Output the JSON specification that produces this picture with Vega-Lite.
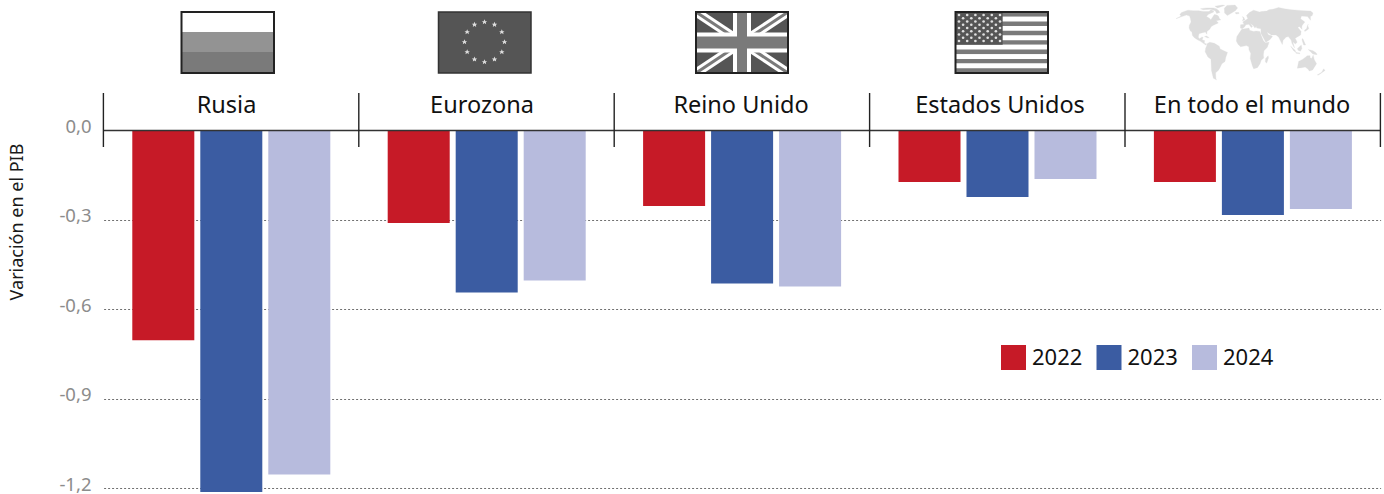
{
"$schema":"https://vega.github.io/schema/vega-lite/v6.json",
"width":1277,"height":494,"autosize":{"type":"none"},
"padding":{"left":103,"right":4,"top":0,"bottom":0},
"background":"white",
"config":{"font":"Noto Sans","view":{"stroke":null}},
"datasets":{
"pib":[
{"zona":"Rusia","anio":"2022","var":-0.703},{"zona":"Rusia","anio":"2023","var":-1.212},{"zona":"Rusia","anio":"2024","var":-1.153},
{"zona":"Eurozona","anio":"2022","var":-0.31},{"zona":"Eurozona","anio":"2023","var":-0.543},{"zona":"Eurozona","anio":"2024","var":-0.503},
{"zona":"Reino Unido","anio":"2022","var":-0.253},{"zona":"Reino Unido","anio":"2023","var":-0.513},{"zona":"Reino Unido","anio":"2024","var":-0.523},
{"zona":"Estados Unidos","anio":"2022","var":-0.173},{"zona":"Estados Unidos","anio":"2023","var":-0.223},{"zona":"Estados Unidos","anio":"2024","var":-0.163},
{"zona":"En todo el mundo","anio":"2022","var":-0.173},{"zona":"En todo el mundo","anio":"2023","var":-0.283},{"zona":"En todo el mundo","anio":"2024","var":-0.263}
],
"world":[
{"type":"Feature","properties":{},"geometry":{"type":"MultiPolygon","coordinates":[
[[[-166,66],[-156,71],[-140,70],[-125,70],[-110,68],[-95,68],[-94,72],[-85,70],[-82,67],[-93,62],[-94,58],[-85,55],[-80,52],[-79,55],[-77,62],[-70,61],[-65,59],[-60,54],[-56,52],[-66,50],[-60,46],[-66,44],[-70,42],[-74,40],[-76,35],[-81,31],[-80,26],[-82,28],[-84,30],[-90,29],[-97,27],[-97,21],[-94,18],[-90,21],[-87,21],[-88,16],[-83,15],[-83,10],[-78,9],[-80,7],[-85,10],[-92,14],[-97,16],[-105,20],[-110,24],[-113,30],[-117,32],[-122,37],[-124,42],[-124,48],[-130,54],[-137,59],[-147,61],[-155,58],[-165,54],[-158,59],[-165,62],[-166,66]]],
[[[-125,74],[-110,76],[-90,76],[-80,74],[-70,70],[-65,66],[-72,64],[-80,70],[-95,73],[-115,72],[-125,74]]],
[[[-90,80],[-70,83],[-62,82],[-78,76],[-90,80]]],
[[[-55,82],[-30,83],[-20,76],[-25,70],[-43,60],[-52,65],[-58,75],[-55,82]]],
[[[-84,22],[-80,23],[-74,20],[-78,20],[-84,22]]],
[[[-78,9],[-72,12],[-62,10],[-52,5],[-50,0],[-35,-6],[-39,-15],[-41,-22],[-48,-26],[-54,-34],[-58,-38],[-65,-42],[-68,-52],[-68,-55],[-74,-52],[-73,-38],[-70,-18],[-76,-14],[-81,-5],[-80,1],[-77,8],[-78,9]]],
[[[-6,35],[10,37],[11,33],[20,31],[25,32],[33,31],[36,22],[39,15],[43,11],[51,12],[47,3],[40,-3],[39,-10],[40,-16],[35,-20],[33,-26],[28,-33],[20,-35],[17,-30],[12,-17],[13,-8],[9,-1],[9,4],[4,6],[-8,4],[-13,8],[-17,14],[-16,22],[-10,30],[-6,35]]],
[[[49,-12],[50,-16],[47,-25],[44,-23],[44,-17],[49,-12]]],
[[[-9,37],[-9,43],[-1,44],[-4,48],[2,51],[8,54],[5,60],[13,66],[25,71],[40,67],[45,68],[60,69],[68,72],[80,73],[100,77],[113,74],[130,72],[160,70],[179,69],[179,65],[170,60],[163,58],[156,51],[156,58],[142,59],[135,54],[140,48],[130,42],[127,39],[126,35],[122,40],[118,38],[122,31],[119,25],[110,21],[106,19],[109,12],[105,9],[100,13],[103,2],[98,10],[97,16],[92,22],[87,21],[80,15],[78,8],[73,18],[72,21],[67,25],[57,25],[52,28],[48,30],[51,25],[56,24],[59,22],[52,16],[44,12],[39,21],[35,28],[36,36],[27,37],[26,40],[23,37],[19,42],[13,45],[18,40],[15,38],[10,44],[3,43],[0,39],[-5,36],[-9,37]]],
[[[-5,58],[-2,57],[1,52],[-5,50],[-3,54],[-5,58]]],
[[[-24,66],[-15,66],[-14,64],[-22,63],[-24,66]]],
[[[130,33],[136,36],[141,41],[145,44],[142,42],[141,36],[135,33],[130,31],[130,33]]],
[[[95,5],[104,-2],[106,-6],[101,-3],[95,5]]],
[[[109,1],[117,7],[118,1],[115,-4],[110,-2],[109,1]]],
[[[131,-1],[141,-3],[148,-7],[150,-10],[141,-9],[135,-4],[131,-1]]],
[[[120,18],[122,18],[126,7],[122,7],[120,14],[120,18]]],
[[[106,-6],[114,-7],[114,-8.5],[106,-7.5],[106,-6]]],
[[[114,-22],[122,-18],[130,-12],[136,-12],[136,-15],[140,-17],[142,-11],[146,-19],[153,-26],[150,-37],[144,-39],[138,-35],[131,-32],[124,-33],[115,-34],[114,-22]]],
[[[173,-35],[178,-38],[170,-46],[167,-46],[173,-41],[173,-35]]]
]}}
],
"usStars":[
{"r":0,"c":0},{"r":0,"c":2},{"r":0,"c":4},{"r":0,"c":6},{"r":0,"c":8},{"r":0,"c":10},
{"r":1,"c":1},{"r":1,"c":3},{"r":1,"c":5},{"r":1,"c":7},{"r":1,"c":9},
{"r":2,"c":0},{"r":2,"c":2},{"r":2,"c":4},{"r":2,"c":6},{"r":2,"c":8},{"r":2,"c":10},
{"r":3,"c":1},{"r":3,"c":3},{"r":3,"c":5},{"r":3,"c":7},{"r":3,"c":9},
{"r":4,"c":0},{"r":4,"c":2},{"r":4,"c":4},{"r":4,"c":6},{"r":4,"c":8},{"r":4,"c":10},
{"r":5,"c":1},{"r":5,"c":3},{"r":5,"c":5},{"r":5,"c":7},{"r":5,"c":9},
{"r":6,"c":0},{"r":6,"c":2},{"r":6,"c":4},{"r":6,"c":6},{"r":6,"c":8},{"r":6,"c":10},
{"r":7,"c":1},{"r":7,"c":3},{"r":7,"c":5},{"r":7,"c":7},{"r":7,"c":9},
{"r":8,"c":0},{"r":8,"c":2},{"r":8,"c":4},{"r":8,"c":6},{"r":8,"c":8},{"r":8,"c":10}
]
},
"resolve":{"scale":{"x":"independent","y":"independent","color":"independent","size":"independent","xOffset":"independent"}},
"layer":[
{"data":{"name":"world"},"mark":{"type":"geoshape","fill":"#dddddd","stroke":"#dddddd","strokeWidth":0.3},
 "projection":{"type":"naturalEarth1","scale":32,"translate":[1141.5,49]}},
{"data":{"name":"pib"},"mark":{"type":"bar"},
 "encoding":{
  "x":{"field":"zona","type":"nominal","axis":null,"sort":null,"scale":{"type":"band","domain":["Rusia","Eurozona","Reino Unido","Estados Unidos","En todo el mundo"],"range":[0.6,1277.6],"paddingInner":0,"paddingOuter":0}},
  "xOffset":{"field":"anio","type":"nominal","scale":{"type":"band","paddingInner":0.088,"paddingOuter":0.422}},
  "y":{"field":"var","type":"quantitative","scale":{"domain":[-1.2186,0.4375],"range":[494,0],"nice":false,"zero":false},
   "axis":{"values":[0,-0.3,-0.6,-0.9,-1.2],"labelExpr":"(datum.value<0?'-':'')+replace(format(abs(datum.value),'.1f'),'.',',')","labelFontSize":18.5,"labelColor":"#8c8c8c","labelPadding":12,"labelOffset":-4,"ticks":false,"domain":false,"grid":true,"gridColor":"#707070","gridDash":[2,2],"gridWidth":1,"gridOpacity":{"condition":{"test":"datum.value===0","value":0},"value":1},"title":"Variación en el PIB","titleFontSize":18,"titleFontWeight":"normal","titleColor":"#1a1a1a","titleX":-77,"titleY":221.5,"titleAnchor":"middle","titleAlign":"center"}},
  "color":{"field":"anio","type":"nominal","scale":{"domain":["2022","2023","2024"],"range":["#c61a27","#3b5ca2","#b7bbdd"]},
   "legend":{"orient":"none","legendX":898,"legendY":345,"direction":"horizontal","columns":3,"title":null,"symbolType":"square","symbolSize":625,"symbolStrokeWidth":0,"symbolOpacity":1,"labelFontSize":22,"labelColor":"#111111","labelOffset":6,"columnPadding":13.5,"padding":0}}
 }},
{"data":{"values":[{"b":"zero"}]},"mark":{"type":"rule","color":"#333333","strokeWidth":1.5},
 "encoding":{"x":{"datum":0,"type":"quantitative","axis":null,"scale":{"domain":[0,5],"range":[0,1277]}},"x2":{"datum":5},
  "y":{"datum":0,"type":"quantitative","axis":null,"scale":{"domain":[-1.2186,0.4375],"range":[494,0],"nice":false,"zero":false}}}},
{"data":{"values":[{"b":0},{"b":1},{"b":2},{"b":3},{"b":4},{"b":5}]},"mark":{"type":"rule","color":"#222222","strokeWidth":1.4,"xOffset":0.4},
 "encoding":{"x":{"field":"b","type":"quantitative","axis":null,"scale":{"domain":[0,5],"range":[0,1277]}},
  "y":{"datum":0.1257,"type":"quantitative","axis":null,"scale":{"domain":[-1.2186,0.4375],"range":[494,0],"nice":false,"zero":false}},"y2":{"datum":-0.0553}}},
{"data":{"values":[{"zona":"Rusia","p":123.5},{"zona":"Eurozona","p":379},{"zona":"Reino Unido","p":638},{"zona":"Estados Unidos","p":897},{"zona":"En todo el mundo","p":1149}]},
 "mark":{"type":"text","fontSize":23.5,"color":"#111111","align":"center","baseline":"middle"},
 "encoding":{"text":{"field":"zona"},
  "x":{"field":"p","type":"quantitative","axis":null,"scale":{"domain":[0,1277],"range":[0,1277]}},
  "y":{"datum":0.0805,"type":"quantitative","axis":null,"scale":{"domain":[-1.2186,0.4375],"range":[494,0],"nice":false,"zero":false}}}},

{"data":{"values":[{"f":"1","tono":"blanco"},{"f":"2","tono":"azul"},{"f":"3","tono":"rojo"}]},"mark":{"type":"rect"},
 "encoding":{"x":{"datum":-1,"type":"quantitative","axis":null,"scale":{"domain":[-1,1],"range":[78.5,171]}},"x2":{"datum":1},
  "y":{"field":"f","type":"nominal","axis":null,"scale":{"type":"band","range":[12,72],"paddingInner":0,"paddingOuter":0}},
  "color":{"field":"tono","type":"nominal","legend":null,"scale":{"domain":["blanco","azul","rojo"],"range":["#ffffff","#939393","#7a7a7a"]}}}},
{"data":{"values":[{"bandera":"Rusia"}]},"mark":{"type":"rect","fill":null,"stroke":"#222222","strokeWidth":2},
 "encoding":{"x":{"datum":-1,"type":"quantitative","axis":null,"scale":{"domain":[-1,1],"range":[78.5,171]}},"x2":{"datum":1},
  "y":{"datum":-1,"type":"quantitative","axis":null,"scale":{"domain":[-1,1],"range":[73,12]}},"y2":{"datum":1}}},

{"data":{"values":[{"bandera":"Eurozona"}]},"mark":{"type":"rect","fill":"#555555","stroke":"#333333","strokeWidth":1.5},
 "encoding":{"x":{"datum":-1,"type":"quantitative","axis":null,"scale":{"domain":[-1,1],"range":[335.5,428]}},"x2":{"datum":1},
  "y":{"datum":-1,"type":"quantitative","axis":null,"scale":{"domain":[-1,1],"range":[73,12]}},"y2":{"datum":1}}},
{"data":{"values":[{"a":0,"b":1},{"a":0.5,"b":0.866},{"a":0.866,"b":0.5},{"a":1,"b":0},{"a":0.866,"b":-0.5},{"a":0.5,"b":-0.866},{"a":0,"b":-1},{"a":-0.5,"b":-0.866},{"a":-0.866,"b":-0.5},{"a":-1,"b":0},{"a":-0.866,"b":0.5},{"a":-0.5,"b":0.866}]},
 "mark":{"type":"point","filled":true,"opacity":1,"color":"#dddddd","size":32,"shape":"M0,-1L0.294,-0.309L0.951,-0.309L0.476,0.118L0.588,0.809L0,0.382L-0.588,0.809L-0.476,0.118L-0.951,-0.309L-0.294,-0.309Z"},
 "encoding":{"x":{"field":"a","type":"quantitative","axis":null,"scale":{"domain":[-1,1],"range":[361.5,401.5]}},
  "y":{"field":"b","type":"quantitative","axis":null,"scale":{"domain":[-1,1],"range":[62,22]}}}},

{"data":{"values":[{"bandera":"Reino Unido"}]},"mark":{"type":"rect","fill":"#555555"},
 "encoding":{"x":{"datum":-1,"type":"quantitative","axis":null,"scale":{"domain":[-1,1],"range":[593,685]}},"x2":{"datum":1},
  "y":{"datum":-1,"type":"quantitative","axis":null,"scale":{"domain":[-1,1],"range":[73,12]}},"y2":{"datum":1}}},
{"data":{"values":[
 {"x0":-1,"y0":-1,"x1":1,"y1":1,"p":"aspa blanca"},{"x0":-1,"y0":1,"x1":1,"y1":-1,"p":"aspa blanca"},
 {"x0":-1,"y0":-1,"x1":1,"y1":1,"p":"aspa gris"},{"x0":-1,"y0":1,"x1":1,"y1":-1,"p":"aspa gris"},
 {"x0":-1,"y0":0,"x1":1,"y1":0,"p":"cruz blanca h"},{"x0":0,"y0":-1,"x1":0,"y1":1,"p":"cruz blanca v"},
 {"x0":-1,"y0":0,"x1":1,"y1":0,"p":"cruz gris h"},{"x0":0,"y0":-1,"x1":0,"y1":1,"p":"cruz gris v"}]},
 "mark":{"type":"rule"},
 "encoding":{"x":{"field":"x0","type":"quantitative","axis":null,"scale":{"domain":[-1,1],"range":[593,685]}},"x2":{"field":"x1"},
  "y":{"field":"y0","type":"quantitative","axis":null,"scale":{"domain":[-1,1],"range":[73,12]}},"y2":{"field":"y1"},
  "color":{"field":"p","type":"nominal","legend":null,"scale":{"domain":["aspa blanca","aspa gris","cruz blanca h","cruz blanca v","cruz gris h","cruz gris v"],"range":["#ffffff","#7a7a7a","#ffffff","#ffffff","#7a7a7a","#7a7a7a"]}},
  "size":{"field":"p","type":"nominal","legend":null,"scale":{"type":"ordinal","domain":["aspa blanca","aspa gris","cruz blanca h","cruz blanca v","cruz gris h","cruz gris v"],"range":[9,3,20,18,12,10]}}}},
{"data":{"values":[{"bandera":"Reino Unido"}]},"mark":{"type":"rect","fill":null,"stroke":"#ffffff","strokeWidth":10},
 "encoding":{"x":{"datum":-1.13,"type":"quantitative","axis":null,"scale":{"domain":[-1,1],"range":[593,685]}},"x2":{"datum":1.13},
  "y":{"datum":-1.2,"type":"quantitative","axis":null,"scale":{"domain":[-1,1],"range":[73,12]}},"y2":{"datum":1.2}}},
{"data":{"values":[{"bandera":"Reino Unido"}]},"mark":{"type":"rect","fill":null,"stroke":"#222222","strokeWidth":2},
 "encoding":{"x":{"datum":-1,"type":"quantitative","axis":null,"scale":{"domain":[-1,1],"range":[593,685]}},"x2":{"datum":1},
  "y":{"datum":-1,"type":"quantitative","axis":null,"scale":{"domain":[-1,1],"range":[73,12]}},"y2":{"datum":1}}},

{"data":{"values":[{"f":"01","t":"g"},{"f":"02","t":"w"},{"f":"03","t":"g"},{"f":"04","t":"w"},{"f":"05","t":"g"},{"f":"06","t":"w"},{"f":"07","t":"g"},{"f":"08","t":"w"},{"f":"09","t":"g"},{"f":"10","t":"w"},{"f":"11","t":"g"},{"f":"12","t":"w"},{"f":"13","t":"g"}]},"mark":{"type":"rect"},
 "encoding":{"x":{"datum":-1,"type":"quantitative","axis":null,"scale":{"domain":[-1,1],"range":[852.5,945]}},"x2":{"datum":1},
  "y":{"field":"f","type":"nominal","axis":null,"scale":{"type":"band","range":[12,73],"paddingInner":0,"paddingOuter":0}},
  "color":{"field":"t","type":"nominal","legend":null,"scale":{"domain":["g","w"],"range":["#7a7a7a","#ffffff"]}}}},
{"data":{"values":[{"bandera":"Estados Unidos"}]},"mark":{"type":"rect","fill":"#555555"},
 "encoding":{"x":{"datum":-1,"type":"quantitative","axis":null,"scale":{"domain":[-1,1],"range":[852.5,945]}},"x2":{"datum":0.02},
  "y":{"datum":-0.077,"type":"quantitative","axis":null,"scale":{"domain":[-1,1],"range":[73,12]}},"y2":{"datum":1}}},
{"data":{"name":"usStars"},"mark":{"type":"point","filled":true,"opacity":1,"color":"#e0e0e0","size":7,"shape":"circle"},
 "encoding":{"x":{"field":"c","type":"quantitative","axis":null,"scale":{"domain":[0,10],"range":[856,897]}},
  "y":{"field":"r","type":"quantitative","axis":null,"scale":{"domain":[0,8],"range":[15,41],"zero":false}}}},
{"data":{"values":[{"bandera":"Estados Unidos"}]},"mark":{"type":"rect","fill":null,"stroke":"#222222","strokeWidth":2},
 "encoding":{"x":{"datum":-1,"type":"quantitative","axis":null,"scale":{"domain":[-1,1],"range":[852.5,945]}},"x2":{"datum":1},
  "y":{"datum":-1,"type":"quantitative","axis":null,"scale":{"domain":[-1,1],"range":[73,12]}},"y2":{"datum":1}}}
]
}
